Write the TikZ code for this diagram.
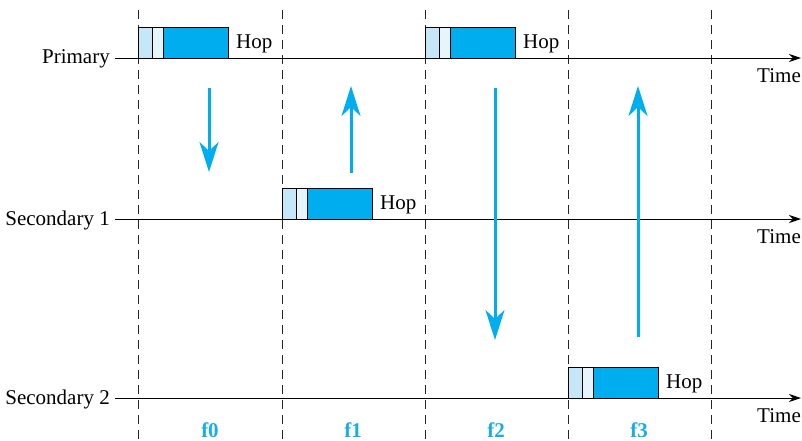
\documentclass[tikz,border=0pt]{standalone}
\usepackage{fontspec}
\setmainfont{Liberation Serif}
\usetikzlibrary{arrows.meta,positioning}
\definecolor{hopblue}{HTML}{00AEEF}
\definecolor{hdrblue}{HTML}{C6E7F8}
\definecolor{hdrpale}{HTML}{E6F5FC}
\definecolor{freqblue}{HTML}{1AACE6}
\tikzset{
  axis/.style    = {-{Stealth[length=12pt,width=8pt]}, line width=0.9pt, black},
  slot/.style    = {dash pattern=on 9pt off 6pt, line width=0.9pt, black!85},
  hdra/.style    = {rectangle, draw=black, line width=0.9pt, fill=hdrblue, outer sep=0pt,
                    inner sep=0pt, minimum width=14pt, minimum height=31pt},
  hdrb/.style    = {rectangle, draw=black, line width=0.9pt, fill=hdrpale, outer sep=0pt,
                    inner sep=0pt, minimum width=11pt, minimum height=31pt},
  hopbox/.style  = {rectangle, draw=black, line width=0.9pt, fill=hopblue, outer sep=0pt,
                    inner sep=0pt, minimum width=65pt, minimum height=31pt},
  lbl/.style     = {font=\fontsize{21}{25}\selectfont, inner sep=0pt},
  freq/.style    = {font=\fontsize{21}{25}\selectfont\bfseries, text=freqblue, inner sep=0pt},
  hopflow/.style = {-{Stealth[length=30pt,width=19pt,inset=9pt]}, line width=3pt, hopblue},
}
\begin{document}
\begin{tikzpicture}[x=1pt, y=-1pt]
  \useasboundingbox (0,0) rectangle (802,440);

  % slot boundaries
  \foreach \nm/\px in {d0/138, d1/282, d2/425, d3/568, d4/711} {
    \coordinate (\nm t) at (\px,10);
    \coordinate (\nm b) at (\px,440);
    \draw[slot] (\nm t) -- (\nm b);
  }

  % stations and time axes
  \foreach \nm/\py/\txt in {pr/58/Primary, sa/219/Secondary 1, sb/398/Secondary 2} {
    \node[lbl, anchor=east] (\nm) at (110,\py+1) {\txt};
    \coordinate (\nm l) at (115,\py);
    \coordinate (\nm r) at (801,\py);
    \draw[axis] (\nm l) -- (\nm r);
    \node[lbl, anchor=north east] (\nm t) at (801,\py+10) {Time};
  }

  % hop packets
  \foreach \nm/\px/\py in {ha/138/58, hb/425/58, hc/282/219, hd/568/398} {
    \node[hdra, anchor=south west] (\nm a) at (\px,\py) {};
    \node[hdrb, right=0pt of \nm a] (\nm b) {};
    \node[hopbox, right=0pt of \nm b] (\nm) {};
    \node[lbl, right=8pt of \nm, yshift=-1pt] (\nm h) {Hop};
  }

  % frequency hops
  \coordinate (f0s) at (209,88);  \coordinate (f0e) at (209,172);
  \coordinate (f1s) at (351,173); \coordinate (f1e) at (351,86);
  \coordinate (f2s) at (495,88);  \coordinate (f2e) at (495,340);
  \coordinate (f3s) at (638,337); \coordinate (f3e) at (638,86);
  \draw[hopflow] (f0s) -- (f0e);
  \draw[hopflow] (f1s) -- (f1e);
  \draw[hopflow] (f2s) -- (f2e);
  \draw[hopflow] (f3s) -- (f3e);

  % frequency labels
  \node[freq] (fa) at (210,430) {f0};
  \node[freq] (fb) at (353,430) {f1};
  \node[freq] (fc) at (496,430) {f2};
  \node[freq] (fd) at (639,430) {f3};

\end{tikzpicture}
\end{document}
